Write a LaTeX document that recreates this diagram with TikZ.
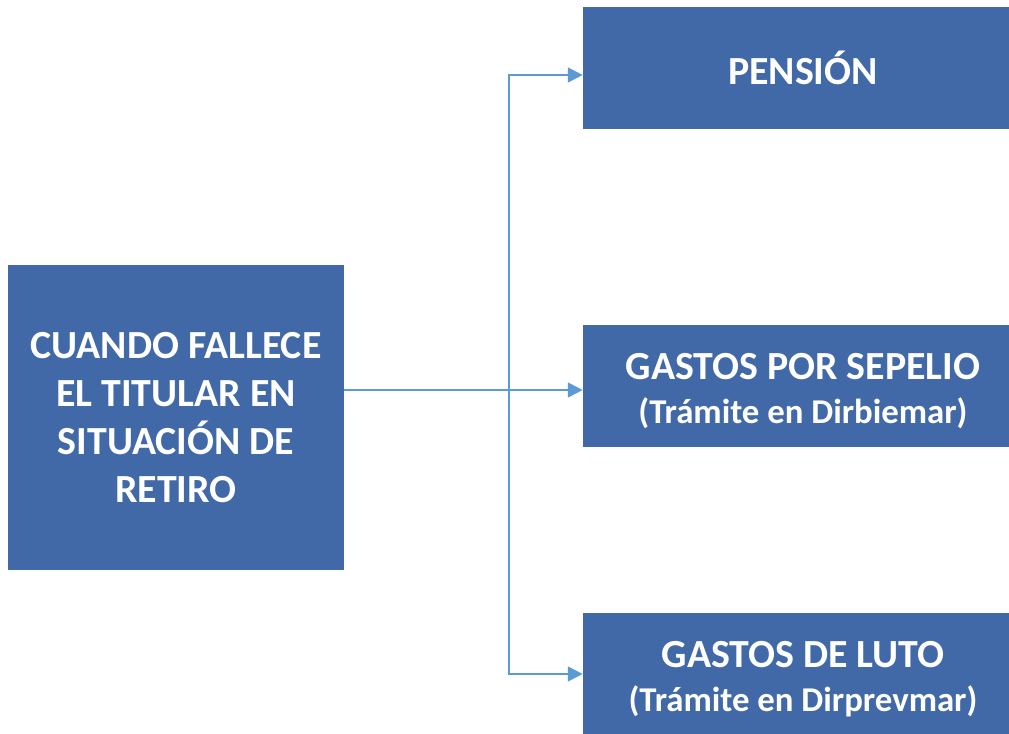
\documentclass[tikz,border=0pt]{standalone}
\usepackage{fontspec}
\setmainfont{Carlito}
\usepackage{tikz}
\usetikzlibrary{arrows.meta}
\definecolor{boxblue}{HTML}{4169A7}
\definecolor{lineblue}{HTML}{5B9BD5}

\begin{document}
\begin{tikzpicture}[x=0.02cm,y=-0.02cm]
\tikzset{blockbox/.style={fill=boxblue, draw=none, text=white, font=\fontsize{22.7}{27.2}\selectfont\bfseries, align=center, inner sep=0pt},
caption/.style={text=white, font=\fontsize{22.7}{27.2}\selectfont\bfseries, align=center, inner sep=0pt},
link/.style={draw=lineblue, line width=1pt},
tip/.style={-{Triangle[length=8.5pt,width=8.5pt]}}}
\newcommand{\subline}[1]{{\fontsize{19.8}{22.7}\selectfont #1}}
\useasboundingbox (0,0) rectangle (1009,734);

\node[blockbox, minimum width=6.72cm, minimum height=6.1cm] (retiro) at (176,417.5)
{CUANDO FALLECE\\EL TITULAR EN\\SITUACIÓN DE\\RETIRO};
\node[blockbox, minimum width=8.8cm, minimum height=2.44cm] (pension) at (803,68) {PENSIÓN};
\node[blockbox, minimum width=8.8cm, minimum height=2.44cm] (sepelio) at (803,386) {};
\node[blockbox, minimum width=8.8cm, minimum height=2.44cm] (luto) at (803,674) {};
\node[caption] (sepeliotext) at ([yshift=-0.1cm]sepelio.center)
{GASTOS POR SEPELIO\\[-2.5pt]\subline{(Trámite en Dirbiemar)}};
\node[caption] (lutotext) at ([yshift=-0.1cm]luto.center)
{GASTOS DE LUTO\\[-2.5pt]\subline{(Trámite en Dirprevmar)}};

\coordinate (split) at (509,390);
\draw[link] (retiro.east |- split) -- (split);
\draw[link,tip] (split) -- (sepelio.west |- split);
\draw[link,tip] (split) |- ([yshift=-0.14cm]pension.west);
\draw[link,tip] (split) |- (luto.west);
\end{tikzpicture}
\end{document}
